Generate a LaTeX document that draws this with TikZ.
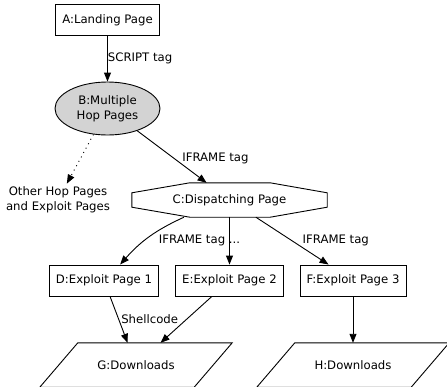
\documentclass[tikz,border=0pt]{standalone}
\usepackage{fontspec}
\setmainfont{DejaVu Sans}
\usepackage{tikz}
\definecolor{hopgray}{HTML}{D3D3D3}
\tikzset{
  graph_font/.style = {font=\fontsize{11.7}{15}\selectfont},
  edge_line/.style = {line width=0.9pt},
  hop_fill/.style = {fill=hopgray}
}
\tikzset{
  page/.style = {graph_font, draw, edge_line, minimum height=31, inner xsep=6.5},
  hop/.style = {graph_font, ellipse, draw, edge_line, hop_fill, align=center,
    minimum width=105, minimum height=53, inner sep=0},
  dispatch/.style = {graph_font, minimum width=195, minimum height=34, inner sep=0},
  download/.style = {graph_font, minimum width=192, minimum height=44, inner sep=0},
  plain/.style = {graph_font, align=center, inner sep=3},
  edge_label/.style = {graph_font, inner sep=0},
  link/.style = {edge_line, -{Triangle[length=9pt, width=7pt]}},
  hint/.style = {link, dash pattern=on 1pt off 4pt}
}
\usetikzlibrary{shapes.geometric, arrows.meta, calc}

\begin{document}
\begin{tikzpicture}[x=1pt, y=-1pt]{
        \useasboundingbox (0,0) rectangle (447,386);
        \clip (0,0) rectangle (447,386);

        % Pages
        \node[page] (a) at (107.5,20) {A:Landing Page};
        \node[hop] (b) at (107.5,108.5) {B:Multiple\\Hop Pages};
        \node[plain] (other) at (58,200) {Other Hop Pages\\and Exploit Pages};
        \node[dispatch] (c) at (229.5,200) {C:Dispatching Page};
        \node[page] (d) at (104,280.5) {D:Exploit Page 1};
        \node[page] (e) at (229.5,280.5) {E:Exploit Page 2};
        \node[page] (f) at (353,280.5) {F:Exploit Page 3};
        \node[download] (g) at (136,365) {G:Downloads};
        \node[download] (h) at (353,365) {H:Downloads};

        % octagon round the dispatching page
        \draw[edge_line] ($(c.north west)+(58,0)$)--($(c.north east)+(-57,0)$)
            --($(c.north east)+(0,10)$)--($(c.south east)+(0,-10)$)
            --($(c.south east)+(-57,0)$)--($(c.south west)+(58,0)$)
            --($(c.south west)+(0,-10)$)--($(c.north west)+(0,10)$)--cycle;

        % parallelograms round the downloads
        \foreach \n in {g,h}{
            \draw[edge_line] ($(\n.north west)+(38,0)$)--(\n.north east)
                --($(\n.south east)+(-38,0)$)--(\n.south west)--cycle;
        }

        % Arrows and labels
        \draw[link] (a)--node[edge_label, right] (l_script) {SCRIPT tag} (b);
        \draw[hint] (b)--(other);
        \draw[link] (b)--node[edge_label, anchor=west, xshift=10, yshift=-1.5] (l_iframe) {IFRAME tag} (c);
        \draw[link] (c) to[bend right=12] (d);
        \draw[link] (c)--node[edge_label, anchor=east, xshift=11] (l_more) {IFRAME tag ...} (e);
        \draw[link] (c)--node[edge_label, anchor=west, xshift=10] (l_iframe_f) {IFRAME tag} (f);
        \draw[link] (d)--node[edge_label, anchor=west, xshift=2] (l_shell) {Shellcode} (g);
        \draw[link] (e)--(g);
        \draw[link] (f)--(h);
        }
\end{tikzpicture}
\end{document}
